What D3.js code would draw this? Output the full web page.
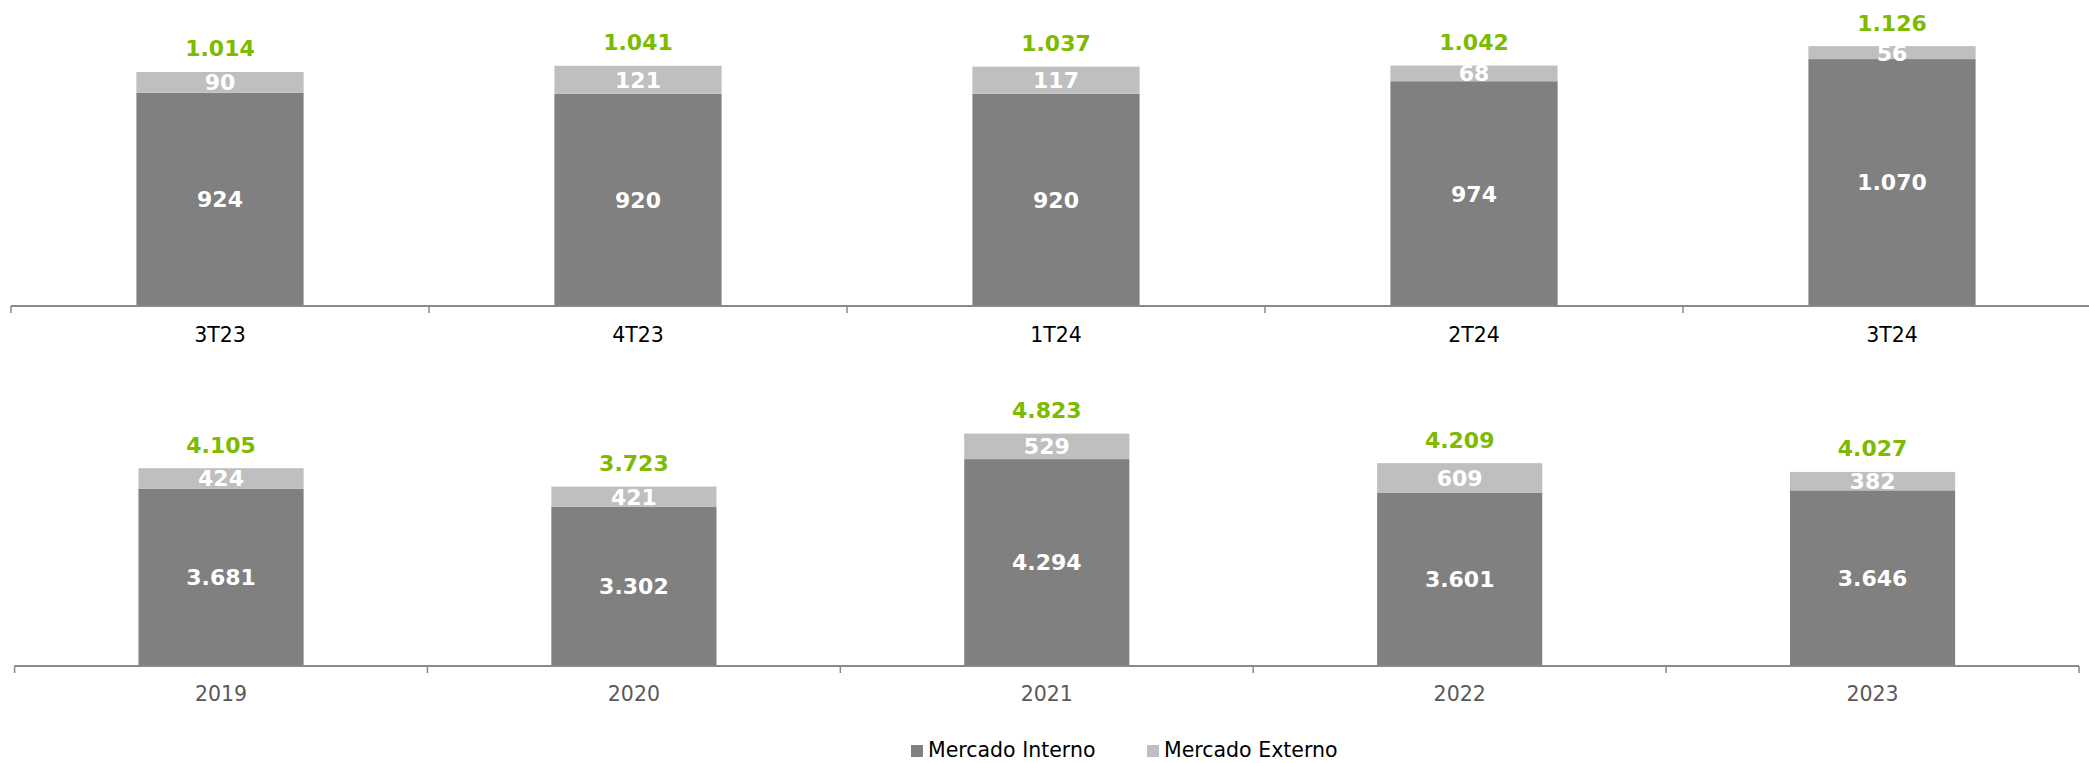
<!DOCTYPE html>
<html>
<head>
<meta charset="utf-8">
<script src="https://cdn.jsdelivr.net/npm/d3@7"></script>
<style>
  body { margin: 0; background: #fff; }
  svg { display: block; font-family: "DejaVu Sans", Verdana, sans-serif; }
</style>
</head>
<body>
<svg id="chart" width="2089" height="763"></svg>
<script>
// trimestral
var quarters = ['3T23', '4T23', '1T24', '2T24', '3T24'];
var qInterno = [924, 920, 920, 974, 1070];
var qExterno = [90, 121, 117, 68, 56];
var qTotal = [1014, 1041, 1037, 1042, 1126];

// anual
var years = ['2019', '2020', '2021', '2022', '2023'];
var yInterno = [3681, 3302, 4294, 3601, 3646];
var yExterno = [424, 421, 529, 609, 382];
var yTotal = [4105, 3723, 4823, 4209, 4027];

var seriesNames = ['Mercado Interno', 'Mercado Externo'];
var colors = ['#808080', '#bfbfbf'];
var green = '#7dba00';

var svg = d3.select('#chart');

// pt-BR style thousands: 1.014
function fmt(v) {
    return d3.format(',')(v).replace(/,/g, '.');
}

function drawPanel(cats, interno, externo, totals, opts) {
    var g = svg.append('g');

    var x = d3.scaleBand()
        .domain(cats)
        .range(opts.xRange)
        .paddingInner(0.6)
        .paddingOuter(0.3);

    var y = d3.scaleLinear()
        .domain([0, opts.yMax])
        .range(opts.yRange);

    var rows = cats.map(function (c, i) {
        return { cat: c, interno: interno[i], externo: externo[i], total: totals[i] };
    });

    var stack = d3.stack().keys(['interno', 'externo'])(rows);

    var layers = g.selectAll('g.layer')
        .data(stack)
        .enter()
        .append('g')
        .attr('class', 'layer')
        .attr('fill', function (d, i) { return colors[i]; });

    layers.selectAll('rect')
        .data(function (d) { return d; })
        .enter()
        .append('rect')
        .attr('x', function (d) { return x(d.data.cat); })
        .attr('width', x.bandwidth())
        .attr('y', function (d) { return y(d[1]); })
        .attr('height', function (d) { return y(d[0]) - y(d[1]); });

    // values inside the segments
    layers.selectAll('text')
        .data(function (d) { return d; })
        .enter()
        .append('text')
        .attr('x', function (d) { return x(d.data.cat) + x.bandwidth() / 2; })
        .attr('y', function (d) { return (y(d[0]) + y(d[1])) / 2; })
        .attr('dy', '0.36em')
        .attr('text-anchor', 'middle')
        .attr('fill', '#fff')
        .attr('font-weight', 'bold')
        .attr('font-size', 22)
        .text(function (d) { return fmt(d[1] - d[0]); });

    // totals on top
    g.selectAll('text.total')
        .data(rows)
        .enter()
        .append('text')
        .attr('class', 'total')
        .attr('x', function (d) { return x(d.cat) + x.bandwidth() / 2; })
        .attr('y', function (d) { return y(d.total) - 23.5; })
        .attr('dy', '0.36em')
        .attr('text-anchor', 'middle')
        .attr('fill', green)
        .attr('font-weight', 'bold')
        .attr('font-size', 22)
        .text(function (d) { return fmt(d.total); });

    // category axis with ticks between the bands
    var base = opts.yRange[0];
    var ax = g.append('g');
    ax.append('line')
        .attr('x1', opts.xRange[0]).attr('x2', opts.xRange[1])
        .attr('y1', base).attr('y2', base)
        .attr('stroke', '#898989').attr('stroke-width', 2);

    var edges = cats.map(function (c) { return x(c) - x.step() * x.paddingInner() / 2; });
    edges.push(opts.xRange[1]);
    ax.selectAll('line.tick')
        .data(edges)
        .enter()
        .append('line')
        .attr('class', 'tick')
        .attr('x1', function (d) { return d; }).attr('x2', function (d) { return d; })
        .attr('y1', base).attr('y2', base + 7)
        .attr('stroke', '#898989').attr('stroke-width', 1.5);

    ax.selectAll('text')
        .data(cats)
        .enter()
        .append('text')
        .attr('x', function (d) { return x(d) + x.bandwidth() / 2; })
        .attr('y', base + opts.labelGap)
        .attr('dy', '0.36em')
        .attr('text-anchor', 'middle')
        .attr('font-size', 20.5)
        .attr('fill', opts.labelColor)
        .text(String);
}

drawPanel(quarters, qInterno, qExterno, qTotal, {
    xRange: [11, 2101],
    yMax: 1300,
    yRange: [306, 6],
    labelGap: 29,
    labelColor: '#000'
});

drawPanel(years, yInterno, yExterno, yTotal, {
    xRange: [14.6, 2079],
    yMax: 5500,
    yRange: [666, 401],
    labelGap: 28,
    labelColor: '#595959'
});

// legend
var legend = svg.append('g').attr('transform', 'translate(0,750)');
var legendX = [911, 1147];
var items = legend.selectAll('g')
    .data(seriesNames)
    .enter()
    .append('g')
    .attr('transform', function (d, i) { return 'translate(' + legendX[i] + ',0)'; });

items.append('rect')
    .attr('x', 0).attr('y', -5)
    .attr('width', 12).attr('height', 12)
    .attr('fill', function (d, i) { return colors[i]; });

items.append('text')
    .attr('x', 17)
    .attr('dy', '0.32em')
    .attr('font-size', 20.5)
    .attr('fill', '#000')
    .text(String);
</script>
</body>
</html>
